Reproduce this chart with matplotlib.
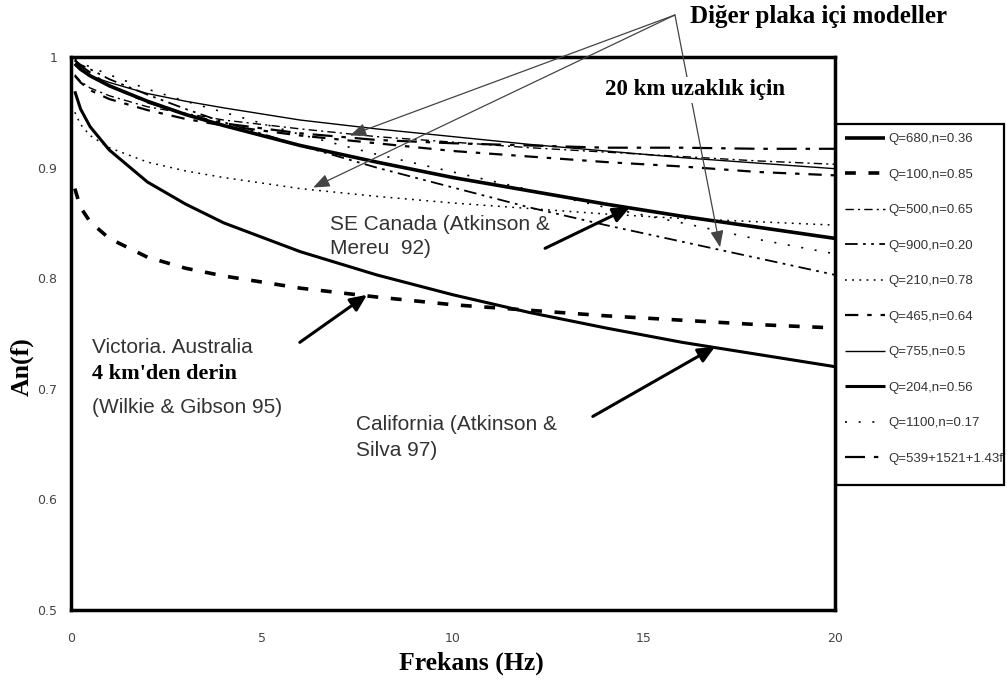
import matplotlib
matplotlib.use("Agg")
import matplotlib.pyplot as plt

# --- data (An(f) at 20 km) ---
freqs = [0.1, 0.25, 0.5, 1, 2, 3, 4, 6, 8, 10, 12, 14, 16, 18, 20]

an_680 = [0.994, 0.989, 0.983, 0.974, 0.960, 0.948, 0.938, 0.920, 0.905, 0.891, 0.879, 0.867, 0.856, 0.846, 0.836]
an_100 = [0.881, 0.864, 0.851, 0.836, 0.819, 0.809, 0.802, 0.791, 0.783, 0.776, 0.771, 0.766, 0.762, 0.758, 0.755]
an_500 = [0.984, 0.978, 0.972, 0.965, 0.955, 0.949, 0.943, 0.935, 0.928, 0.923, 0.918, 0.914, 0.910, 0.906, 0.903]
an_900 = [0.997, 0.993, 0.989, 0.980, 0.966, 0.953, 0.941, 0.920, 0.900, 0.882, 0.864, 0.848, 0.833, 0.818, 0.803]
an_210 = [0.950, 0.939, 0.929, 0.918, 0.905, 0.897, 0.891, 0.881, 0.874, 0.868, 0.863, 0.858, 0.854, 0.851, 0.848]
an_465 = [0.983, 0.977, 0.970, 0.962, 0.952, 0.944, 0.938, 0.929, 0.922, 0.915, 0.910, 0.905, 0.901, 0.896, 0.893]
an_755 = [0.993, 0.988, 0.983, 0.977, 0.967, 0.960, 0.954, 0.943, 0.935, 0.928, 0.921, 0.915, 0.909, 0.904, 0.899]
an_204 = [0.969, 0.953, 0.937, 0.916, 0.887, 0.867, 0.850, 0.824, 0.803, 0.785, 0.769, 0.755, 0.742, 0.731, 0.720]
an_1100 = [0.998, 0.995, 0.991, 0.984, 0.971, 0.960, 0.950, 0.930, 0.912, 0.896, 0.880, 0.864, 0.850, 0.835, 0.822]
an_539 = [0.997, 0.992, 0.986, 0.974, 0.959, 0.948, 0.940, 0.931, 0.925, 0.922, 0.920, 0.918, 0.918, 0.917, 0.917]

labels = ["Q=680,n=0.36", "Q=100,n=0.85", "Q=500,n=0.65", "Q=900,n=0.20",
          "Q=210,n=0.78", "Q=465,n=0.64", "Q=755,n=0.5", "Q=204,n=0.56",
          "Q=1100,n=0.17", "Q=539+1521+1.43f"]
series = [an_680, an_100, an_500, an_900, an_210, an_465, an_755, an_204,
          an_1100, an_539]

x_ticks = [0, 5, 10, 15, 20]
y_ticks = [0.5, 0.6, 0.7, 0.8, 0.9, 1.0]
y_ticklabels = ["0.5", "0.6", "0.7", "0.8", "0.9", "1"]

# line styles, same order as labels
styles = [
    dict(ls="-", lw=2.6),
    dict(ls=(0, (3, 3.5)), lw=2.6),
    dict(ls=(0, (6, 3, 1.5, 3)), lw=1.0),
    dict(ls=(0, (7, 3, 1.5, 3, 1.5, 3)), lw=1.3),
    dict(ls=(0, (1.2, 3.5)), lw=1.1),
    dict(ls=(0, (6, 4, 2, 4)), lw=1.6),
    dict(ls="-", lw=1.0),
    dict(ls="-", lw=2.2),
    dict(ls=(0, (1.2, 7)), lw=1.2),
    dict(ls=(0, (9, 4, 2, 4)), lw=1.6),
]

W, H = 1007, 682
fig = plt.figure(figsize=(W / 100, H / 100), dpi=100)
ax = fig.add_axes([71 / W, 1 - 610 / H, 764 / W, 553 / H])

for y, lab, st in zip(series, labels, styles):
    ax.plot(freqs, y, color="black", label=lab, solid_capstyle="butt", **st)

ax.set_xlim(0, 20)
ax.set_ylim(0.5, 1.0)
ax.set_xticks(x_ticks)
ax.set_xticklabels([str(t) for t in x_ticks])
ax.set_yticks(y_ticks)
ax.set_yticklabels(y_ticklabels)
ax.tick_params(length=0, labelsize=9, labelcolor="#444444")
ax.tick_params(axis="x", pad=16)
ax.tick_params(axis="y", pad=10)
for sp in ax.spines.values():
    sp.set_linewidth(2.5)

serif = "Liberation Serif"
sans = "Liberation Sans"
ax.set_xlabel("Frekans (Hz)", fontsize=18.5, fontweight="bold", family=serif,
              va="center")
ax.xaxis.set_label_coords(0.524, -0.096)
ax.set_ylabel("An(f)", fontsize=18.5, fontweight="bold", family=serif)
ax.yaxis.set_label_coords(-0.049, 0.441)

# legend: entries from the axes, frame drawn as a figure rectangle
leg = ax.legend(loc="upper left", bbox_to_anchor=(836 / W, 1 - 124 / H),
                bbox_transform=fig.transFigure, borderaxespad=0,
                fontsize=9.5, labelspacing=1.76, handlelength=3.0,
                handletextpad=0.3, borderpad=0.7, frameon=False)
box = plt.Rectangle((836 / W, 1 - 485 / H), 168 / W, 361 / H,
                    transform=fig.transFigure, fill=False, lw=1.6,
                    ec="black", zorder=5)
fig.patches.append(box)
for t in leg.get_texts():
    t.set_color("#333333")
    t.set_family(sans)
    t.set_clip_path(box)

# region annotations
ax.text(6.78, 0.838, "SE Canada (Atkinson &\nMereu  92)", fontsize=15, family=sans,
        color="#333333", va="center", linespacing=1.35)
ax.text(0.55, 0.737, "Victoria. Australia", fontsize=15, family=sans,
        color="#333333", va="center")
ax.text(0.55, 0.713, "4 km'den derin", fontsize=16, family=serif,
        fontweight="bold", va="center")
ax.text(0.55, 0.683, "(Wilkie & Gibson 95)", fontsize=15, family=sans,
        color="#333333", va="center")
ax.text(7.45, 0.656, "California (Atkinson &\nSilva 97)", fontsize=15, family=sans,
        color="#333333", va="center", linespacing=1.44)

thick = dict(arrowstyle="-|>,head_length=1.0,head_width=0.45", color="black",
             lw=2.2, shrinkA=0, shrinkB=0)
ax.annotate("", xy=(14.63, 0.864), xytext=(12.41, 0.827), arrowprops=thick)
ax.annotate("", xy=(7.75, 0.785), xytext=(5.99, 0.742), arrowprops=thick)
ax.annotate("", xy=(16.86, 0.738), xytext=(13.66, 0.675), arrowprops=thick)

thin = dict(arrowstyle="-|>,head_length=1.0,head_width=0.4", color="#444444",
            lw=0.9, shrinkA=0, shrinkB=0)
apex = (15.81, 1.038)
for tip in [(7.30, 0.929), (6.34, 0.882), (16.99, 0.828)]:
    ax.annotate("", xy=tip, xytext=apex, arrowprops=thin, annotation_clip=False)

fig.text(690 / W, 1 - 16 / H, "Diğer plaka içi modeller", fontsize=18,
         family=serif, fontweight="bold", va="center", ha="left")
fig.text(605 / W, 1 - 90 / H, "20 km uzaklık için", fontsize=16.5,
         family=serif, fontweight="bold", va="center", ha="left",
         bbox=dict(facecolor="white", edgecolor="none", pad=2))

fig.savefig("out.png", dpi=100)
